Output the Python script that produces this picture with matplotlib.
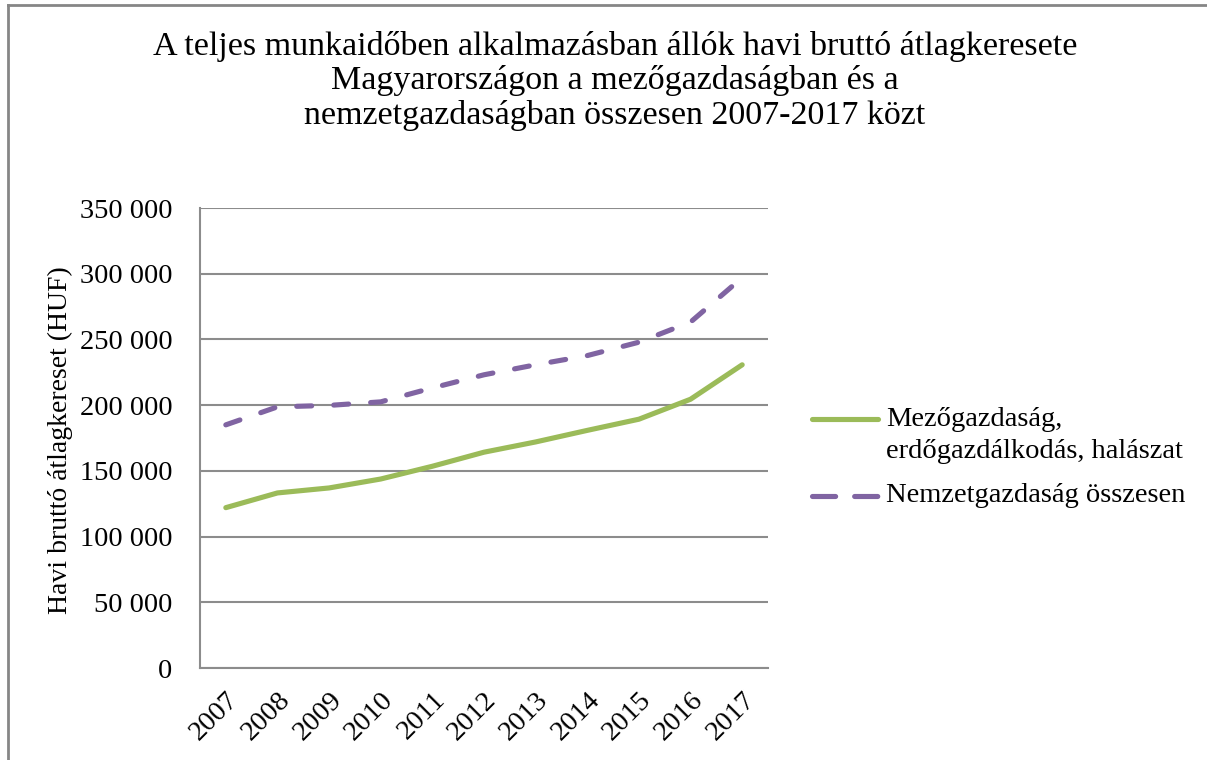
import matplotlib
matplotlib.use("Agg")
import matplotlib.pyplot as plt
from matplotlib.lines import Line2D
from matplotlib.ticker import FuncFormatter, MultipleLocator

years = ["2007", "2008", "2009", "2010", "2011", "2012", "2013", "2014", "2015", "2016", "2017"]
agri = [122000, 133200, 137000, 143800, 153500, 164200, 172000, 180800, 189300, 204500, 230700]
national = [185000, 198700, 199800, 202500, 213100, 223100, 230700, 237700, 247900, 263200, 297000]
agri_label = "Mezőgazdaság,\nerdőgazdálkodás, halászat"
nat_label = "Nemzetgazdaság összesen"
title = ("A teljes munkaidőben alkalmazásban állók havi bruttó átlagkeresete\n"
         "Magyarországon a mezőgazdaságban és a\n"
         "nemzetgazdaságban összesen 2007-2017 közt")
ylabel = "Havi bruttó átlagkereset (HUF)"

plt.rcParams['font.family'] = ['Liberation Serif', 'DejaVu Serif']

W, H = 1207, 760
fig = plt.figure(figsize=(W / 100, H / 100), dpi=100)
ax = fig.add_axes([200 / W, 1 - 668 / H, 568 / W, 460 / H])

green = "#9BBB59"
purple = "#8064A2"
grid = "#8C8C8C"
FS = 20.5

x = list(range(len(years)))
ax.plot(x, agri, color=green, lw=3.7, solid_capstyle='round', solid_joinstyle='round', zorder=3)
ax.plot(x, national, color=purple, lw=3.7, ls=(0, (2.9, 4.3)), dash_capstyle='round', zorder=3)

ax.set_xlim(-0.5, len(years) - 0.5)
ax.set_ylim(0, 350000)
ax.yaxis.set_major_locator(MultipleLocator(50000))
ax.yaxis.set_major_formatter(FuncFormatter(lambda v, p: f"{int(v):,}".replace(",", " ")))
ax.set_xticks(x)
ax.set_xticklabels(years, rotation=45, ha='right', rotation_mode='anchor')
ax.tick_params(axis='both', length=0, labelsize=FS)
ax.tick_params(axis='y', pad=20)
ax.tick_params(axis='x', pad=14)
ax.grid(axis='y', color=grid, lw=1.5)
ax.set_axisbelow(True)
for s in ['top', 'right']:
    ax.spines[s].set_visible(False)
for s in ['left', 'bottom']:
    ax.spines[s].set_color(grid)
    ax.spines[s].set_linewidth(1.5)

fig.text(60 / W, 1 - 440 / H, ylabel, rotation=90, ha='center', va='center', fontsize=20)
fig.text(615 / W, 1 - 81 / H, title, ha='center', va='center', fontsize=24.5, linespacing=1.16)

# legend (manual)
fig.add_artist(Line2D([812 / W, 878 / W], [1 - 419 / H, 1 - 419 / H], color=green, lw=3.7,
                      solid_capstyle='round'))
fig.text(886 / W, 1 - 419 / H, "Mezőgazdaság,", ha='left', va='center', fontsize=FS)
fig.text(886 / W, 1 - 451 / H, "erdőgazdálkodás, halászat", ha='left', va='center', fontsize=FS)
fig.add_artist(Line2D([812 / W, 878 / W], [1 - 496 / H, 1 - 496 / H], color=purple, lw=3.7,
                      ls=(0, (4.5, 3.7)), dash_capstyle='round'))
fig.text(886 / W, 1 - 496 / H, nat_label, ha='left', va='center', fontsize=FS)

# chart frame (cropped)
fig.add_artist(Line2D([8 / W, 8 / W], [0, 1 - 5 / H], color="#868686", lw=2))
fig.add_artist(Line2D([8 / W, 1], [1 - 5 / H, 1 - 5 / H], color="#868686", lw=2))

fig.savefig("out.png", dpi=100)
